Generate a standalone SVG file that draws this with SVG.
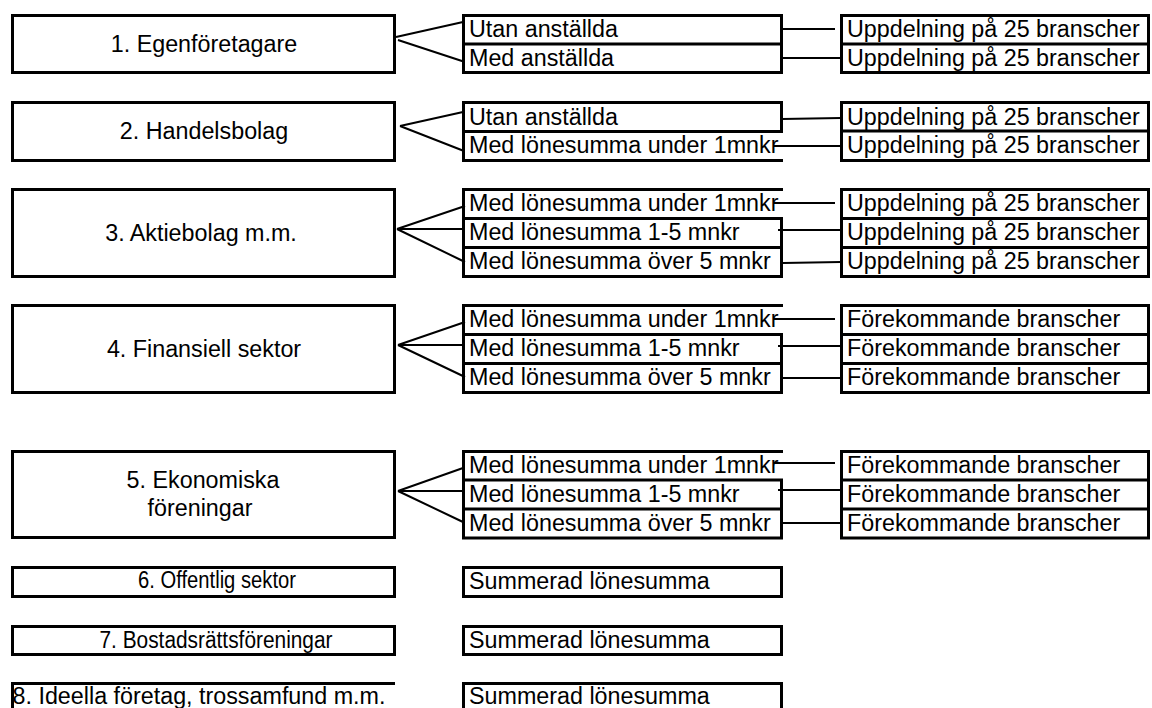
<svg xmlns="http://www.w3.org/2000/svg" width="1152" height="708" viewBox="0 0 1152 708">
<style>
.b{fill:#fff;stroke:#000;stroke-width:3}
.l{fill:none;stroke:#000;stroke-width:3}
.c{fill:none;stroke:#000;stroke-width:2}
text{font-family:"Liberation Sans",Arial,sans-serif;font-size:23.3px;fill:#000}
.m{text-anchor:middle}
</style>
<rect width="1152" height="708" fill="#fff"/>
<g id="connectors">
<path class="c" d="M396,37 L463,22 M398,40 L465,62"/>
<path class="c" d="M400,126 L463,112 M400,126 L464,151"/>
<path class="c" d="M397,229 L465,206 M397,229 L465,229 M397,229 L465,262"/>
<path class="c" d="M398,345 L465,322 M398,345 L465,345 M398,345 L465,377"/>
<path class="c" d="M398,491 L463,468 M398,491 L463,491 M398,491 L463,522"/>
<path class="c" d="M777,29 L835,29 M778,58 L841,58"/>
<path class="c" d="M782,119 L841,118 M773,146 L841,146"/>
<path class="c" d="M773,203 L835,203 M778,230 L841,230 M783,263 L841,262"/>
<path class="c" d="M773,319 L835,319 M778,346 L841,346 M783,378 L841,378"/>
<path class="c" d="M773,463 L835,463 M778,490 L841,490 M783,523 L841,523"/>
</g>
<g id="n1"><rect class="b" x="12.5" y="15.5" width="382" height="57"/><text class="m" x="204" y="52">1. Egenföretagare</text></g>
<g id="n2"><rect class="b" x="12.5" y="102.5" width="382" height="58"/><text class="m" x="204" y="139">2. Handelsbolag</text></g>
<g id="n3"><rect class="b" x="12.5" y="189.5" width="382" height="87"/><text class="m" x="201" y="241">3. Aktiebolag m.m.</text></g>
<g id="n4"><rect class="b" x="12.5" y="305.5" width="382" height="87"/><text class="m" x="204" y="357">4. Finansiell sektor</text></g>
<g id="n5"><rect class="b" x="12.5" y="451.5" width="382" height="86"/><text class="m" x="203" y="488">5. Ekonomiska</text><text class="m" x="200" y="516">föreningar</text></g>
<g id="n6"><rect class="b" x="12.5" y="567.5" width="382" height="29"/><text class="m" x="217" y="588" textLength="158" lengthAdjust="spacingAndGlyphs">6. Offentlig sektor</text></g>
<g id="n7"><rect class="b" x="12.5" y="626.5" width="382" height="28"/><text class="m" x="216" y="648" textLength="233" lengthAdjust="spacingAndGlyphs">7. Bostadsrättsföreningar</text></g>
<g id="n8"><path class="l" d="M12.5,712 V683.5 H395"/><text class="m" x="199" y="704">8. Ideella företag, trossamfund m.m.</text></g>
<g id="m1"><rect class="b" x="463.5" y="15.5" width="318" height="57"/><path class="l" d="M463,44 H782"/><text x="469" y="37">Utan anställda</text><text x="469" y="65.5">Med anställda</text></g>
<g id="m2"><rect class="b" x="463.5" y="102.5" width="318" height="29"/><path class="l" d="M463.5,131 V160.5 H783"/><text x="469" y="124.5">Utan anställda</text><text x="469" y="153">Med lönesumma under 1mnkr</text></g>
<g id="m3"><path class="l" d="M783,189.5 H463.5 V276.5 H783 M463,218.5 H783 M463,247.5 H783 M781.5,217 V278"/><text x="469" y="211">Med lönesumma under 1mnkr</text><text x="469" y="240">Med lönesumma 1-5 mnkr</text><text x="469" y="269">Med lönesumma över 5 mnkr</text></g>
<g id="m4"><path class="l" d="M783,305.5 H463.5 V392.5 H783 M463,334.5 H783 M463,363.5 H783 M781.5,333 V394"/><text x="469" y="327">Med lönesumma under 1mnkr</text><text x="469" y="356">Med lönesumma 1-5 mnkr</text><text x="469" y="385">Med lönesumma över 5 mnkr</text></g>
<g id="m5"><path class="l" d="M783,451.5 H463.5 V538 H783 M463,480 H783 M463,509 H783 M781.5,478.5 V539.5"/><text x="469" y="473">Med lönesumma under 1mnkr</text><text x="469" y="502">Med lönesumma 1-5 mnkr</text><text x="469" y="531">Med lönesumma över 5 mnkr</text></g>
<g id="m6"><rect class="b" x="463.5" y="567.5" width="318" height="29"/><text x="469" y="589">Summerad lönesumma</text></g>
<g id="m7"><rect class="b" x="463.5" y="626.5" width="318" height="28"/><text x="469" y="648">Summerad lönesumma</text></g>
<g id="m8"><path class="l" d="M463.5,712 V683.5 H781.5 V712"/><text x="469" y="704">Summerad lönesumma</text></g>
<g id="r1"><rect class="b" x="841.5" y="15.5" width="307" height="57"/><path class="l" d="M841,44 H1149"/><text x="847" y="37">Uppdelning på 25 branscher</text><text x="847" y="65.5">Uppdelning på 25 branscher</text></g>
<g id="r2"><rect class="b" x="841.5" y="102.5" width="307" height="58"/><path class="l" d="M841,131 H1149"/><text x="847" y="124.5">Uppdelning på 25 branscher</text><text x="847" y="153">Uppdelning på 25 branscher</text></g>
<g id="r3"><rect class="b" x="841.5" y="189.5" width="307" height="87"/><path class="l" d="M841,218.5 H1149 M841,247.5 H1149"/><text x="847" y="211">Uppdelning på 25 branscher</text><text x="847" y="240">Uppdelning på 25 branscher</text><text x="847" y="269">Uppdelning på 25 branscher</text></g>
<g id="r4"><rect class="b" x="841.5" y="305.5" width="307" height="87"/><path class="l" d="M841,334.5 H1149 M841,363.5 H1149"/><text x="847" y="327">Förekommande branscher</text><text x="847" y="356">Förekommande branscher</text><text x="847" y="385">Förekommande branscher</text></g>
<g id="r5"><rect class="b" x="841.5" y="451.5" width="307" height="86.5"/><path class="l" d="M841,480 H1149 M841,509 H1149"/><text x="847" y="473">Förekommande branscher</text><text x="847" y="502">Förekommande branscher</text><text x="847" y="531">Förekommande branscher</text></g>
</svg>
